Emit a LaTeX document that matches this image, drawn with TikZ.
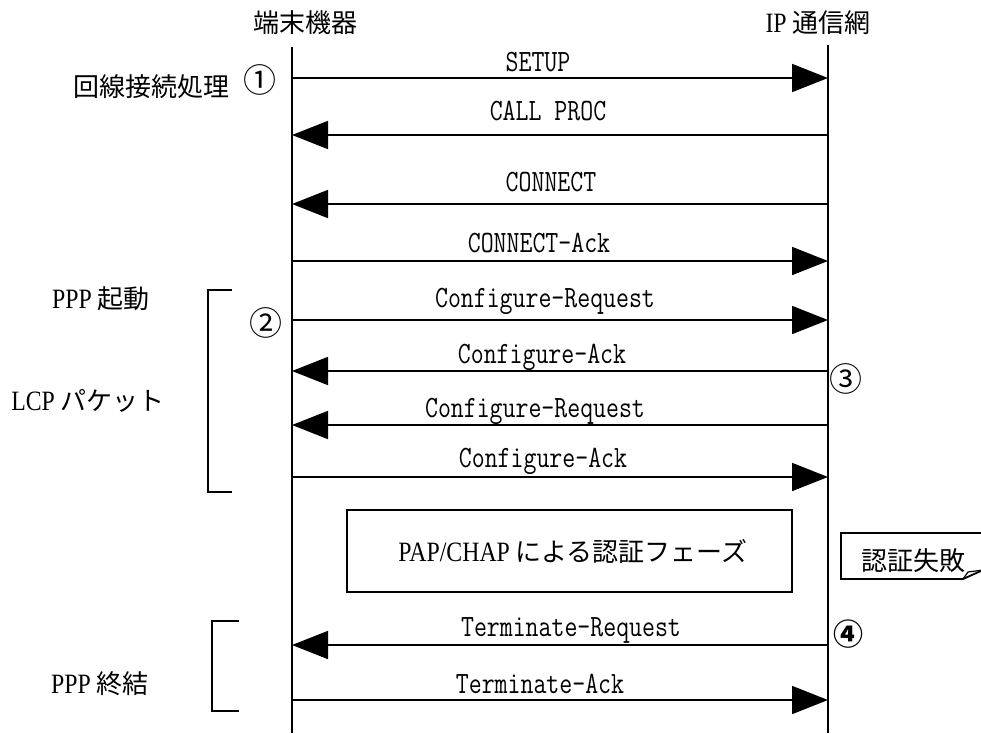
\documentclass[tikz,border=0pt]{standalone}
\usepackage{fontspec}
\usetikzlibrary{arrows.meta}
\newfontfamily\cjk{Noto Sans CJK JP}
\newfontfamily\latf{Latin Modern Mono}[FakeStretch=0.81]
\newfontfamily\latser{Liberation Serif}[FakeStretch=0.85]
\newcommand\mylat[1]{{\fontsize{28}{30}\selectfont\latser #1}}
\tikzset{
  life/.style={line width=2.2pt},
  msg/.style={line width=1.8pt, -{Triangle[length=36pt,width=28pt]}},
  lbl/.style={font=\fontsize{31}{34}\selectfont\latf, inner sep=0pt, anchor=base},
  jp/.style={font=\fontsize{26}{30}\selectfont\cjk, inner sep=0pt},
  circ/.style={font=\fontsize{33}{36}\selectfont\cjk, inner sep=0pt},
  brk/.style={line width=2pt},
  boxx/.style={draw, line width=1.8pt}
}
\begin{document}
\begin{tikzpicture}[x=1pt,y=-1pt]
\useasboundingbox (0,0) rectangle (981,733);
% headers
\node[jp] (h1) at (305,23) {端末機器};
\node[jp] (h2) at (818,23) {\mylat{IP} 通信網};
% lifelines
\coordinate (Lt) at (292,47);
\coordinate (Lb) at (292,733);
\coordinate (Rt) at (828,45);
\coordinate (Rb) at (828,733);
\draw[life] (Lt) -- (Lb);
\draw[life] (Rt) -- (Rb);
% message endpoints
\foreach \n/\y in {a/78,b/135,c/204,d/261,e/320,f/371,g/425,h/477,i/645,j/700}{
  \coordinate (L\n) at (292,\y);
  \coordinate (R\n) at (828,\y);
}
\draw[msg] (La) -- (Ra);
\draw[msg] (Rb) -- (Lb);
\draw[msg] (Rc) -- (Lc);
\draw[msg] (Ld) -- (Rd);
\draw[msg] (Le) -- (Re);
\draw[msg] (Rf) -- (Lf);
\draw[msg] (Rg) -- (Lg);
\draw[msg] (Lh) -- (Rh);
\draw[msg] (Ri) -- (Li);
\draw[msg] (Lj) -- (Rj);
% labels
\node[lbl] (ma) at (538,72) {SETUP};
\node[lbl] (mb) at (548,121) {CALL PROC};
\node[lbl] (mc) at (551,191) {CONNECT};
\node[lbl] (md) at (539,252) {CONNECT-Ack};
\node[lbl] (me) at (545,307) {Configure-Request};
\node[lbl] (mf) at (542,363) {Configure-Ack};
\node[lbl] (mg) at (535,417) {Configure-Request};
\node[lbl] (mh) at (543,467) {Configure-Ack};
\node[lbl] (mi) at (571,636) {Terminate-Request};
\node[lbl] (mj) at (540,693) {Terminate-Ack};
% left side texts
\node[jp] (t1) at (151,87) {回線接続処理};
\node[circ] (c1) at (260,80) {①};
\node[jp] (t2) at (101,299) {\mylat{PPP} 起動};
\node[circ] (c2) at (266,323) {②};
\node[jp] (t3) at (88,401) {\mylat{LCP} パケット};
\node[circ] (c3) at (846,379) {③};
\node[circ,font=\fontsize{30}{34}\selectfont\cjk\bfseries] (c4) at (848,634) {④};
\node[jp] (t4) at (100,684) {\mylat{PPP} 終結};
% brackets
\draw[brk] (232,290) -- (208,290) -- (208,492) -- (232,492);
\draw[brk] (239,621) -- (212,621) -- (212,711) -- (239,711);
% auth box
\node[boxx, minimum width=445pt, minimum height=82pt, inner sep=0pt] (auth) at (569.5,551) {};
\node[jp] (authtxt) at (573,551) {\mylat{PAP/CHAP} による認証フェーズ};
% note
\draw[line width=1.8pt] (985,533) -- (841,533) -- (841,579) -- (963,579) -- (983,570);
\draw[line width=1.2pt] (963,579) -- (968,572) -- (983,570);
\node[jp] (note) at (913,561) {認証失敗};
\end{tikzpicture}
\end{document}
